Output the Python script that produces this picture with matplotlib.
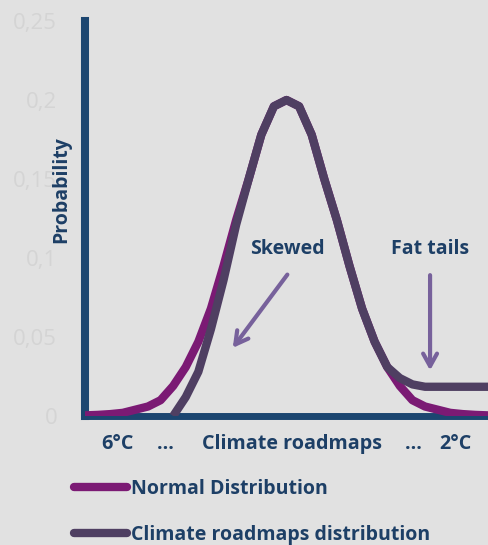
import numpy as np
import matplotlib
matplotlib.use("Agg")
from matplotlib import pyplot as plt
from matplotlib.lines import Line2D

# x positions: 33 evenly spaced categories (index 0..32)
x = np.arange(33)

normal = [0.0004, 0.0007, 0.0012, 0.002, 0.004, 0.006, 0.010, 0.019, 0.031,
          0.047, 0.068, 0.095, 0.124, 0.150, 0.178, 0.196, 0.200, 0.196,
          0.178, 0.150, 0.124, 0.095, 0.068, 0.047, 0.031, 0.019, 0.010,
          0.006, 0.004, 0.002, 0.0012, 0.0007, 0.0004]

roadmaps = [np.nan, np.nan, np.nan, np.nan, np.nan, np.nan, np.nan, 0.0, 0.012,
            0.028, 0.055, 0.086, 0.121, 0.150, 0.178, 0.196, 0.200, 0.196,
            0.178, 0.150, 0.124, 0.095, 0.068, 0.047, 0.031, 0.024, 0.020,
            0.0185, 0.0185, 0.0185, 0.0185, 0.0185, 0.0185]

yticks = [0, 0.05, 0.1, 0.15, 0.2, 0.25]
ytick_labels = ["0", "0,05", "0,1", "0,15", "0,2", "0,25"]

xlabel_pos = [2.6, 6.4, 16.4, 26.1, 29.4]
xlabel_txt = ["6°C", "…", "Climate roadmaps", "…", "2°C"]

bg = "#e1e1e1"
navy = "#1d3f66"
purple = "#7b1a74"
dark = "#4f3f62"
arrow_c = "#77619b"

plt.rcParams['font.family'] = ['Open Sans', 'DejaVu Sans']

fig = plt.figure(figsize=(4.88, 5.45), dpi=100, facecolor=bg)
ax = fig.add_axes([85/488, 129/545, 1 - 85/488, 395/545])
ax.set_facecolor(bg)

ax.plot(x, normal, color=purple, lw=6, solid_capstyle='butt', zorder=3)
ax.plot(x, roadmaps, color=dark, lw=6, solid_capstyle='butt', zorder=4)

ax.set_xlim(0, 32)
ax.set_ylim(0, 0.25)

for s in ["top", "right"]:
    ax.spines[s].set_visible(False)
ax.spines["left"].set_color("#1c4670")
ax.spines["left"].set_linewidth(5.8)
ax.spines["bottom"].set_color("#1c4670")
ax.spines["bottom"].set_linewidth(5)
ax.spines["bottom"].set_zorder(2)

ax.set_yticks(yticks)
ax.set_yticklabels(ytick_labels, color="#d4d4d4", fontsize=16)
ax.tick_params(axis='y', length=0, pad=20)

ax.set_xticks(xlabel_pos)
ax.set_xticklabels(xlabel_txt, color=navy, fontsize=14.2, fontweight='bold')
ax.tick_params(axis='x', length=0, pad=13)

fig.text(61/488, 1 - 190/545, "Probability", rotation=90, ha='center',
         va='center', color=navy, fontsize=14, fontweight='bold')

ax.text(16.1, 0.1057, "Skewed", ha='center', va='center', color=navy,
        fontsize=14, fontweight='bold')
ax.text(27.4, 0.1057, "Fat tails", ha='center', va='center', color=navy,
        fontsize=14, fontweight='bold')

ax.annotate("", xy=(11.6, 0.0417), xytext=(16.2, 0.0909),
            arrowprops=dict(arrowstyle="->,head_length=0.9,head_width=0.5",
                            color=arrow_c, lw=3), zorder=5)
ax.annotate("", xy=(27.4, 0.0271), xytext=(27.4, 0.0909),
            arrowprops=dict(arrowstyle="->,head_length=0.9,head_width=0.5",
                            color=arrow_c, lw=3), zorder=5)

handles = [Line2D([], [], color=purple, lw=6, solid_capstyle='round'),
           Line2D([], [], color=dark, lw=6, solid_capstyle='round')]
leg = fig.legend(handles, ["Normal Distribution", "Climate roadmaps distribution"],
                 loc='upper left', bbox_to_anchor=(74/488, 1 - 479/545),
                 frameon=False, handlelength=2.75, handletextpad=0.2,
                 labelspacing=1.35, borderaxespad=0, borderpad=0,
                 prop=dict(size=14, weight='bold'))
for t in leg.get_texts():
    t.set_color(navy)

fig.savefig("out.png", dpi=100, facecolor=bg)
